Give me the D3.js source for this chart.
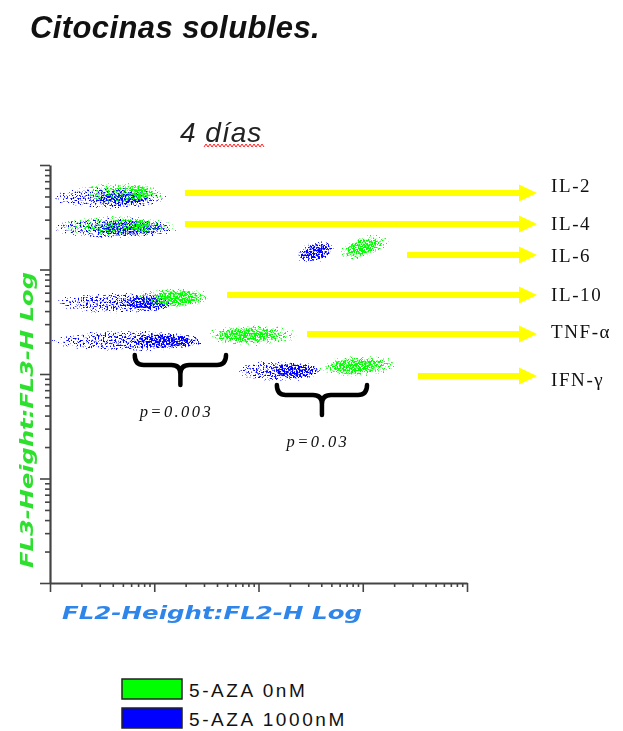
<!DOCTYPE html>
<html>
<head>
<meta charset="utf-8">
<script src="https://cdn.jsdelivr.net/npm/d3@7"></script>
<style>
  body { margin: 0; background: #fff; }
</style>
</head>
<body>
<div id="chart"></div>
<script>
// Citoquinas solubles: nubes de eventos FL2 vs FL3 (4 días)
const cytokines = ["IL-2", "IL-4", "IL-6", "IL-10", "TNF-α", "IFN-γ"];
const groups = ["5-AZA 0nM", "5-AZA 1000nM"];
const groupColors = ["#00ff00", "#0000ff"];

// extensión de cada nube en FL2 (min / max) y núcleo denso, por grupo
const fl2Min = [[1.7, 1.25, 579, 6.5, 30.7, 372], [1.04, 1.04, 229, 1.12, 1.04, 60.8]];
const fl2Max = [[12.7, 15.8, 1825, 35.8, 239, 2180], [13.5, 16.9, 542, 16.9, 30.7, 406]];
const coreMin = [[5.5, 6, 650, 9, 38, 450], [2.7, 2.5, 250, 4.7, 5.85, 129]];
const coreMax = [[9.5, 9.5, 1500, 30, 170, 1600], [9.1, 13, 500, 15.8, 29, 389]];
// centro en FL3 y pendiente (décadas FL3 por década FL2)
const fl3Center = [[5400, 2600, 1640, 534, 236, 119], [4830, 2500, 1470, 478, 207, 107]];
const slope = [[0, 0, 0.3, 0, 0, 0.04], [0, 0, 0.26, 0, 0, 0]];

// flechas: inicio en FL2, altura en FL3
const arrowStart = [19.7, 19.7, 2657, 49.9, 292, 3388];
const arrowFl3 = [5400, 2725, 1376, 570, 241, 95.7];

// comparaciones
const bracketFl2 = [[6.5, 48.8], [150, 1099]];
const bracketFl3 = [152, 78.5];
const pValues = ["p=0.003", "p=0.03"];

const width = 623, height = 731;
const x = d3.scaleLog().domain([1, 10000]).range([50, 467]);
const y = d3.scaleLog().domain([1, 10000]).range([583, 165]);

const svg = d3.select("#chart").append("svg")
  .attr("width", width).attr("height", height)
  .attr("viewBox", [0, 0, width, height]);

const defs = svg.append("defs");

function radial(id, stops) {
  const g = defs.append("radialGradient").attr("id", id);
  for (const [o, a] of stops) {
    g.append("stop").attr("offset", o).attr("stop-color", "#000").attr("stop-opacity", a);
  }
}
radial("tailGrad", [[0, 0.75], [0.75, 0.6], [1, 0.3]]);
radial("coreGrad", [[0, 1], [0.6, 0.85], [1, 0.15]]);

// textura de puntos: ruido umbralizado por la densidad de la nube
function speckle(id, color, seed) {
  const f = defs.append("filter").attr("id", id)
    .attr("filterUnits", "userSpaceOnUse")
    .attr("x", 0).attr("y", 0).attr("width", width).attr("height", height);
  f.append("feTurbulence").attr("type", "fractalNoise")
    .attr("baseFrequency", 0.6).attr("numOctaves", 2).attr("seed", seed).attr("result", "n");
  f.append("feColorMatrix").attr("in", "n").attr("type", "matrix")
    .attr("values", "0 0 0 0 0  0 0 0 0 0  0 0 0 0 0  1 0 0 0 0").attr("result", "na");
  f.append("feComposite").attr("in", "na").attr("in2", "SourceGraphic")
    .attr("operator", "arithmetic")
    .attr("k1", 0).attr("k2", 8).attr("k3", 3.4).attr("k4", -6.4).attr("result", "m");
  f.append("feComponentTransfer").attr("in", "SourceAlpha").attr("result", "clip")
    .append("feFuncA").attr("type", "linear").attr("slope", 40);
  f.append("feComposite").attr("in", "m").attr("in2", "clip").attr("operator", "in").attr("result", "mc");
  f.append("feFlood").attr("flood-color", color);
  f.append("feComposite").attr("in2", "mc").attr("operator", "in");
}
speckle("spk0", groupColors[0], 7);
speckle("spk1", groupColors[1], 23);

const pxPerDecX = x(10) - x(1);
const pxPerDecY = y(1) - y(10);

function cloud(g, x0, x1, fl3, sl, halfDec, fill) {
  const cx = (x(x0) + x(x1)) / 2;
  const rx = (x(x1) - x(x0)) / 2;
  const cy = y(fl3);
  const ry = halfDec * pxPerDecY;
  const ang = -Math.atan(sl * pxPerDecY / pxPerDecX) * 180 / Math.PI;
  g.append("ellipse")
    .attr("cx", cx).attr("cy", cy).attr("rx", rx).attr("ry", ry)
    .attr("transform", `rotate(${ang},${cx},${cy})`)
    .attr("fill", fill);
}

// azul debajo, verde encima
[1, 0].forEach(gi => {
  const g = svg.append("g").attr("filter", `url(#spk${gi})`);
  cytokines.forEach((c, i) => {
    cloud(g, fl2Min[gi][i], fl2Max[gi][i], fl3Center[gi][i], slope[gi][i], 0.1, "url(#tailGrad)");
    cloud(g, coreMin[gi][i], coreMax[gi][i], fl3Center[gi][i], slope[gi][i], 0.075, "url(#coreGrad)");
  });
});

// Ejes
const isMajor = d => Math.abs(Math.log10(d) - Math.round(Math.log10(d))) < 1e-6;
const yAxis = svg.append("g").attr("transform", `translate(${x(1)},0)`)
  .call(d3.axisLeft(y).tickValues(y.ticks()).tickFormat("").tickSizeOuter(0));
yAxis.selectAll(".tick line").attr("x2", d => isMajor(d) ? -10 : -5);
const xAxis = svg.append("g").attr("transform", `translate(0,${y(1)})`)
  .call(d3.axisBottom(x).tickValues(x.ticks()).tickFormat("").tickSizeOuter(0));
xAxis.selectAll(".tick line").attr("y2", d => isMajor(d) ? 9 : 4);
svg.selectAll(".domain").attr("stroke", "#444").attr("stroke-width", 2.2);
svg.selectAll(".tick line").attr("stroke", "#444").attr("stroke-width", 1.6);

// Flechas y nombres de citoquinas
const arrowEnd = 537, headLen = 18, headHalf = 8.5;
const labelDy = [-1, 6, 7, 6, 4, 10];
cytokines.forEach((c, i) => {
  const yy = y(arrowFl3[i]);
  svg.append("line")
    .attr("x1", x(arrowStart[i])).attr("x2", arrowEnd - headLen + 1)
    .attr("y1", yy).attr("y2", yy)
    .attr("stroke", "#ffff00").attr("stroke-width", 6);
  svg.append("path")
    .attr("d", `M${arrowEnd - headLen},${yy - headHalf}L${arrowEnd},${yy}L${arrowEnd - headLen},${yy + headHalf}Z`)
    .attr("fill", "#ffff00");
  svg.append("text")
    .attr("x", 551).attr("y", yy + labelDy[i])
    .attr("font-family", "'Liberation Serif', 'Times New Roman', serif")
    .attr("font-size", 19).attr("letter-spacing", 1.6)
    .attr("fill", "#111")
    .text(c);
});

// Llaves con valores p
bracketFl2.forEach(([a, b], i) => {
  const x0 = x(a), x1 = x(b), cx = (x0 + x1) / 2;
  const top = y(bracketFl3[i]), mid = top + 10, tip = top + 30, r = 9;
  svg.append("path")
    .attr("d", `M${x0},${top}Q${x0},${mid} ${x0 + r},${mid}L${cx - r},${mid}Q${cx},${mid} ${cx},${mid + r}L${cx},${tip}`
      + `M${cx},${mid + r}Q${cx},${mid} ${cx + r},${mid}L${x1 - r},${mid}Q${x1},${mid} ${x1},${top}`)
    .attr("fill", "none").attr("stroke", "#000").attr("stroke-width", 4.5)
    .attr("stroke-linecap", "round").attr("stroke-linejoin", "round");
  svg.append("text")
    .attr("x", cx - 4).attr("y", tip + 32)
    .attr("text-anchor", "middle")
    .attr("font-family", "'Liberation Serif', serif").attr("font-style", "italic")
    .attr("font-size", 16.5).attr("letter-spacing", 2.4)
    .attr("fill", "#111")
    .text(pValues[i]);
});

// Títulos
svg.append("text").attr("x", 30).attr("y", 38)
  .attr("font-family", "'Liberation Sans', Arial, sans-serif")
  .attr("font-weight", "bold").attr("font-style", "italic")
  .attr("font-size", 31).attr("letter-spacing", 0.4).attr("fill", "#111")
  .text("Citocinas solubles.");
svg.append("text").attr("x", 180).attr("y", 142)
  .attr("font-family", "'Liberation Sans', Arial, sans-serif")
  .attr("font-style", "italic").attr("font-size", 28).attr("letter-spacing", 1)
  .attr("fill", "#222")
  .text("4 días");
// subrayado ondulado (corrector ortográfico)
const zig = [];
for (let px = 204; px <= 265; px += 2) zig.push([px, (px / 2) % 2 === 0 ? 147 : 144]);
svg.append("path").attr("d", d3.line()(zig))
  .attr("fill", "none").attr("stroke", "#ff2020").attr("stroke-width", 1);

// Etiquetas de ejes
svg.append("text")
  .attr("transform", "translate(33,420) rotate(-90)")
  .attr("text-anchor", "middle")
  .attr("font-family", "'DejaVu Sans', sans-serif")
  .attr("font-weight", "bold").attr("font-style", "italic")
  .attr("font-size", 18).attr("textLength", 296).attr("lengthAdjust", "spacingAndGlyphs")
  .attr("fill", "#2ee02e")
  .text("FL3-Height:FL3-H Log");
svg.append("text")
  .attr("x", 62).attr("y", 619)
  .attr("font-family", "'DejaVu Sans', sans-serif")
  .attr("font-weight", "bold").attr("font-style", "italic")
  .attr("font-size", 18).attr("textLength", 300).attr("lengthAdjust", "spacingAndGlyphs")
  .attr("fill", "#2f86ea")
  .text("FL2-Height:FL2-H Log");

// Leyenda
const legend = svg.append("g").attr("transform", "translate(122,679)");
groups.forEach((grp, gi) => {
  const row = legend.append("g").attr("transform", `translate(0,${gi * 29})`);
  row.append("rect").attr("width", 60).attr("height", 20)
    .attr("fill", groupColors[gi]).attr("stroke", "#222").attr("stroke-width", 1.5);
  row.append("text").attr("x", 67).attr("y", 18)
    .attr("font-family", "'Liberation Sans', Arial, sans-serif")
    .attr("font-size", 19).attr("letter-spacing", 2.6)
    .attr("fill", "#111")
    .text(grp);
});
</script>
</body>
</html>
